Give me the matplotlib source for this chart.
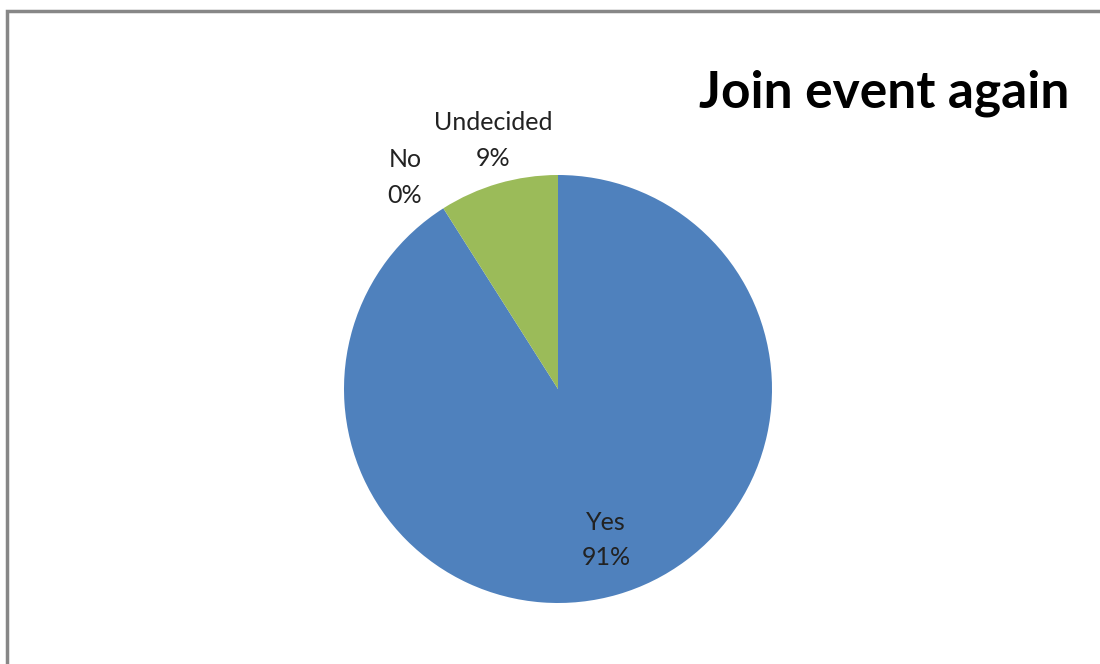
import numpy as np
import matplotlib
matplotlib.use("Agg")
import matplotlib.pyplot as plt
from matplotlib.patches import Rectangle

# survey answers
categories = ["Yes", "No", "Undecided"]
values = [91, 0, 9]
colors = ["#4F81BD", "#C0504D", "#9BBB59"]

# label placement (radius factor, angle nudge in degrees)
label_dist = [0.74, 1.22, 1.2]
label_nudge = [1.5, 3.5, -1.5]

plt.rcParams['font.family'] = ['Lato', 'DejaVu Sans']

fig = plt.figure(figsize=(11, 6.64), dpi=100)

# grey chart frame (runs off the right and bottom)
fig.patches.append(Rectangle((7 / 1100, -0.1), 1.2, 1 - 11 / 664 + 0.1,
                             transform=fig.transFigure, fill=False,
                             edgecolor='#878787', linewidth=2.5))

cx, cy, r = 558, 389, 214
ax = fig.add_axes([(cx - r) / 1100, (664 - cy - r) / 664, 2 * r / 1100, 2 * r / 664])
wedges, _ = ax.pie(values, colors=colors, startangle=90, counterclock=False,
                   radius=1.0, wedgeprops=dict(linewidth=0))
ax.set_xlim(-1, 1)
ax.set_ylim(-1, 1)
ax.set_aspect('equal')
ax.axis('off')

total = sum(values)
for w, name, v, d, nd in zip(wedges, categories, values, label_dist, label_nudge):
    ang = np.deg2rad((w.theta1 + w.theta2) / 2 + nd)
    pct = "{:.0f}%".format(100 * v / total)
    ax.text(d * np.cos(ang), d * np.sin(ang), name + "\n" + pct,
            ha='center', va='center', fontsize=18, color='#222222',
            linespacing=1.65, clip_on=False)

fig.text(884 / 1100, 1 - 93 / 664, "Join event again", ha='center', va='center',
         fontsize=37, fontweight='bold', color='black')

fig.savefig("out.png", dpi=100)
